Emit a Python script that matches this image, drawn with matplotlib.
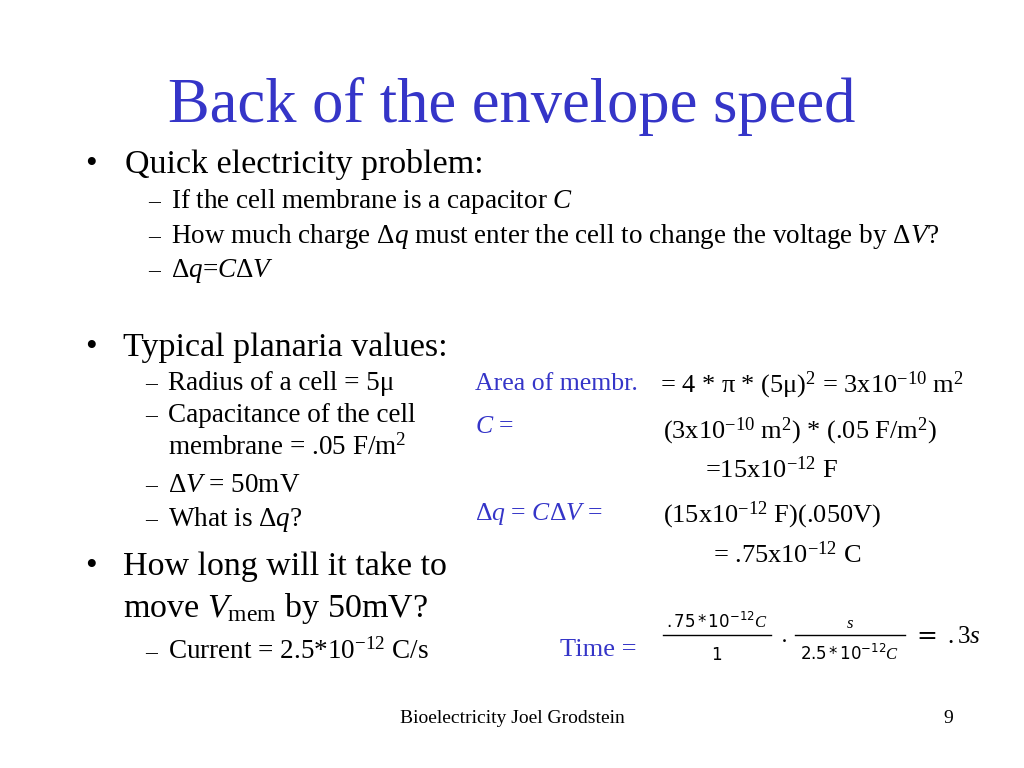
import matplotlib
matplotlib.use("Agg")
import matplotlib.pyplot as plt

plt.rcParams["font.family"] = "Liberation Serif"
plt.rcParams["mathtext.fontset"] = "custom"
plt.rcParams["mathtext.rm"] = "Liberation Serif"
plt.rcParams["mathtext.it"] = "Liberation Serif:italic"
plt.rcParams["mathtext.sf"] = "DejaVu Sans"

BLUE = "#3535c8"

title = "Back of the envelope speed"
bullets = ["Quick electricity problem:", "Typical planaria values:",
           "How long will it take to", r"move $V_{\mathrm{mem}}$ by 50mV?"]
bullet_y = [173, 356, 575, 617]
sub_items = [r"If the cell membrane is a capacitor $C$",
             r"How much charge $\Delta q$ must enter the cell to change the voltage by $\Delta V$?",
             r"$\Delta q$=$C\Delta V$",
             "Radius of a cell = 5μ",
             "Capacitance of the cell",
             r"membrane = .05 F/m$^2$",
             r"$\Delta V$ = 50mV",
             r"What is $\Delta q$?",
             r"Current = 2.5*10$^{-12}$ C/s"]
sub_y = [208, 243, 277, 390, 422, 455, 492, 526, 659]
sub_dash = [True, True, True, True, True, False, True, True, True]
calc_labels = ["Area of membr.", r"$C$ =", r"$\Delta q$ = $C\Delta V$ ="]
calc_label_y = [390, 433, 520]
calc_lines = [r"= 4 * π * (5μ)$^2$ = 3x10$^{-10}$ m$^2$",
              r"(3x10$^{-10}$ m$^2$) * (.05 F/m$^2$)",
              r"=15x10$^{-12}$ F",
              r"(15x10$^{-12}$ F)(.050V)",
              r"= .75x10$^{-12}$ C"]
calc_x = [660, 663, 705, 663, 713]
calc_y = [392, 438, 478, 522, 563]
frac_num = [r"$\mathsf{.75*10^{-12}}\mathit{C}$", r"$\mathit{s}$"]
frac_den = [r"$\mathsf{1}$", r"$\mathsf{2.5*10^{-12}}\mathit{C}$"]
frac_x = [(663, 771), (795, 905)]
footer = "Bioelectricity Joel Grodstein"
page = "9"

fig = plt.figure(figsize=(10.24, 7.68), dpi=100)
W, H = 1024, 768


def put(x, y, s, size, color="black", ha="left", va="baseline"):
    fig.text(x / W, 1 - y / H, s, fontsize=size, color=color, ha=ha, va=va)


put(168, 122, title, 45, BLUE)
for s, y in zip(bullets, bullet_y):
    if not s.startswith("move"):
        put(85, y, "•", 24)
    put(123 if y > 300 else 125, y, s, 24.5)
for s, y, d in zip(sub_items, sub_y, sub_dash):
    x0 = 145 if y > 300 else 148
    if d:
        put(x0, y, "–", 17)
    put(x0 + 23, y, s, 19.5)
for s, y in zip(calc_labels, calc_label_y):
    put(475, y, s, 18.5, BLUE)
for s, x, y in zip(calc_lines, calc_x, calc_y):
    put(x, y, s, 19)

put(560, 656, "Time =", 19, BLUE)
for num, den, (x0, x1) in zip(frac_num, frac_den, frac_x):
    cx = (x0 + x1) / 2
    put(cx, 628, num, 12, ha="center")
    put(cx, 660, den, 12, ha="center")
    fig.add_artist(plt.Line2D([x0 / W, x1 / W], [1 - 635 / H] * 2, color="black", lw=1))
put(783, 645, r"$\cdot$", 18, ha="center")
put(913, 643, r"$\mathsf{=}$ $\mathit{.3s}$", 18)

put(512, 723, footer, 14, ha="center")
put(948, 723, page, 14, ha="center")

fig.savefig("out.png", dpi=100, facecolor="white")
